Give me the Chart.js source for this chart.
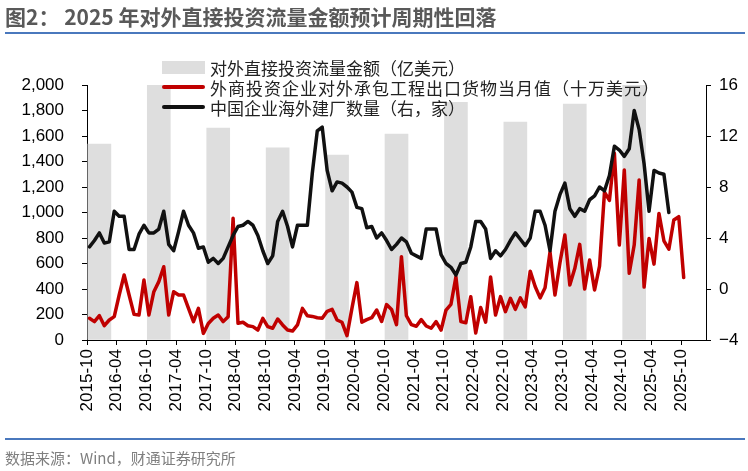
<!DOCTYPE html>
<html lang="zh-CN">
<head>
  <meta charset="UTF-8" />
  <title>对外直接投资流量金额</title>
  <script src="https://cdn.jsdelivr.net/npm/chart.js"></script>
  <style>
    body {
      margin: 0;
      background: #fff;
    }

    .wrap {
      position: relative;
      width: 748px;
      height: 471px;
      overflow: hidden;
      font-family: "Noto Sans CJK SC", sans-serif;
    }

    canvas {
      position: absolute;
      left: 0;
      top: 0;
    }

    .title {
      position: absolute;
      left: 5px;
      top: 3px;
      font-size: 21px;
      line-height: 26px;
      font-weight: bold;
      color: #595959;
      white-space: nowrap;
    }

    .rule {
      position: absolute;
      left: 5px;
      width: 740px;
      border-top: 2px solid #4a78bd;
    }

    .legend {
      position: absolute;
      left: 162px;
      top: 57px;
    }

    .legend .row {
      height: 20px;
      display: flex;
      align-items: center;
      font-size: 17px;
      color: #222;
      white-space: nowrap;
    }

    .sw {
      width: 43px;
      margin-right: 5px;
    }

    .source {
      position: absolute;
      left: 5px;
      top: 447px;
      font-size: 15px;
      color: #7f7f7f;
    }
  </style>
</head>
<body>
  <div class="wrap">
    <canvas id="chart" width="748" height="471"></canvas>
    <div class="title">图2： 2025 年对外直接投资流量金额预计周期性回落</div>
    <div class="rule" style="top: 32px;"></div>

    <div class="legend">
      <div class="row"><span class="sw" style="height: 13px; background: #dedede;"></span>对外直接投资流量金额（亿美元）</div>
      <div class="row" style="letter-spacing: 1px;"><span class="sw" style="height: 4px; border-radius: 2px; background: #c00000;"></span>外商投资企业对外承包工程出口货物当月值（十万美元）</div>
      <div class="row"><span class="sw" style="height: 4px; border-radius: 2px; background: #111;"></span>中国企业海外建厂数量（右，家）</div>
    </div>

    <div class="rule" style="top: 438px;"></div>
    <div class="source">数据来源：Wind，财通证券研究所</div>
  </div>

  <script>
    // monthly categories, 2015-10 .. 2026-02
    const startYear = 2015, startMonth = 10, monthCount = 125;
    const months = [];
    for (let k = 0; k < monthCount; k++) {
      const m = startMonth - 1 + k;
      const y = startYear + Math.floor(m / 12);
      months.push(y + '-' + String(m % 12 + 1).padStart(2, '0'));
    }

    const tickLabels = [
      '2015-10', '2016-04', '2016-10', '2017-04', '2017-10', '2018-04', '2018-10',
      '2019-04', '2019-10', '2020-04', '2020-10', '2021-04', '2021-10', '2022-04',
      '2022-10', '2023-04', '2023-10', '2024-04', '2024-10', '2025-04', '2025-10'
    ];

    // annual ODI flow (亿美元), shown at December of each year
    const odiYears = [2015, 2016, 2017, 2018, 2019, 2020, 2021, 2022, 2023, 2024];
    const odiFlow = [1537, 2000, 1663, 1508, 1451, 1616, 1865, 1710, 1851, 2000];

    // monthly, from 2015-10 (十万美元)
    const contractExports = [
      170, 144, 191, 112, 157, 183, 353, 510, 353, 201, 196, 471,
      196, 379, 458, 575, 196, 379, 353, 353, 248, 144, 248, 52,
      130, 170, 196, 144, 183, 954, 131, 139, 112, 105, 78, 170,
      105, 92, 165, 118, 78, 70, 118, 248, 190, 185, 175, 170,
      225, 240, 157, 139, 34, 248, 450, 140, 160, 175, 235, 145,
      278, 240, 120, 653, 190, 120, 108, 160, 110, 92, 144, 78,
      235, 280, 495, 144, 135, 340, 55, 255, 140, 495, 196, 340,
      222, 327, 240, 330, 260, 540, 420, 330, 410, 690, 353, 605,
      823, 431, 560, 750, 400, 627, 392, 580, 1160, 1095, 1464, 745,
      1333, 523, 745, 1255, 415, 797, 595, 993, 778, 712, 941, 967,
      490
    ];

    // monthly, from 2015-10 (家, right axis)
    const overseasPlants = [
      3.3, 3.8, 4.4, 3.6, 3.7, 6.1, 5.7, 5.7, 3.1, 3.1, 4.3, 5.0,
      4.4, 4.4, 4.7, 6.1, 3.5, 3.0, 4.5, 6.1, 5.0, 4.4, 3.2, 3.3,
      2.1, 2.4, 2.0, 2.4, 3.3, 4.2, 4.9, 5.0, 5.3, 5.0, 4.2, 3.0,
      2.0, 2.6, 5.3, 6.1, 4.9, 3.3, 5.0, 5.0, 5.0, 9.1, 12.4, 12.7,
      9.3, 7.7, 8.4, 8.3, 8.0, 7.6, 6.4, 6.3, 4.8, 4.9, 4.0, 4.4,
      3.8, 3.1, 3.5, 4.0, 3.7, 2.8, 2.6, 2.4, 4.7, 4.7, 4.7, 2.7,
      2.0, 1.7, 1.1, 2.0, 2.1, 3.3, 5.3, 5.3, 4.7, 2.4, 3.0, 2.6,
      3.1, 3.8, 4.4, 3.9, 3.4, 4.0, 6.1, 6.1, 5.0, 3.0, 6.1, 7.4,
      8.3, 6.3, 5.7, 6.3, 6.1, 7.0, 7.3, 8.0, 7.7, 8.9, 11.2, 10.9,
      10.4, 11.0, 14.0, 12.5, 9.8, 6.1, 9.3, 9.1, 9.0, 6.0
    ];

    const barData = months.map(m => {
      const k = odiYears.indexOf(+m.slice(0, 4));
      return (k >= 0 && m.endsWith('-12')) ? odiFlow[k] : null;
    });
    const pad = arr => months.map((_, k) => (k < arr.length ? arr[k] : null));

    Chart.defaults.font.family = "'Liberation Sans', Arial, sans-serif";
    Chart.defaults.color = '#000';

    const tickFont = { size: 17 };
    const axisGrid = { drawOnChartArea: false, tickLength: 5, color: '#000' };

    new Chart(document.getElementById('chart'), {
      type: 'bar',
      data: {
        labels: months,
        datasets: [
          {
            type: 'line',
            label: '中国企业海外建厂数量（右，家）',
            data: pad(overseasPlants),
            yAxisID: 'y1',
            borderColor: '#111',
            borderWidth: 3.5,
            borderJoinStyle: 'round',
            borderCapStyle: 'round',
            pointRadius: 0,
            tension: 0,
            order: 1
          },
          {
            type: 'line',
            label: '外商投资企业对外承包工程出口货物当月值（十万美元）',
            data: pad(contractExports),
            yAxisID: 'y',
            borderColor: '#c00000',
            borderWidth: 3.5,
            borderJoinStyle: 'round',
            borderCapStyle: 'round',
            pointRadius: 0,
            tension: 0,
            order: 2
          },
          {
            type: 'bar',
            label: '对外直接投资流量金额（亿美元）',
            data: barData,
            yAxisID: 'y',
            backgroundColor: '#dedede',
            barThickness: 23,
            order: 3
          }
        ]
      },
      options: {
        responsive: false,
        animation: false,
        layout: { padding: { top: 85, left: 0, right: 0, bottom: 0 } },
        plugins: {
          legend: { display: false },
          tooltip: { enabled: false }
        },
        scales: {
          x: {
            type: 'category',
            offset: true,
            grid: {
              offset: true,
              drawOnChartArea: false,
              tickLength: 5,
              tickColor: c => (c.index % 6 === 0 ? '#000' : 'rgba(0,0,0,0)')
            },
            border: { color: '#000' },
            ticks: {
              autoSkip: false,
              minRotation: 90,
              maxRotation: 90,
              labelOffset: -2.48,
              padding: 4,
              font: tickFont,
              callback: (v, i) => (tickLabels.includes(months[i]) ? months[i] : '')
            },
            afterFit: s => { s.height = 131; }
          },
          y: {
            position: 'left',
            min: 0,
            max: 2000,
            grid: axisGrid,
            border: { color: '#000' },
            ticks: {
              stepSize: 200,
              padding: 18,
              font: tickFont,
              callback: v => v.toLocaleString('en-US')
            },
            afterFit: s => { s.width = 87; }
          },
          y1: {
            position: 'right',
            min: -4,
            max: 16,
            grid: axisGrid,
            border: { color: '#000' },
            ticks: {
              stepSize: 4,
              padding: 8,
              font: tickFont,
              callback: v => (v < 0 ? '−' + Math.abs(v) : v)
            },
            afterFit: s => { s.width = 42; }
          }
        }
      }
    });
  </script>
</body>
</html>
